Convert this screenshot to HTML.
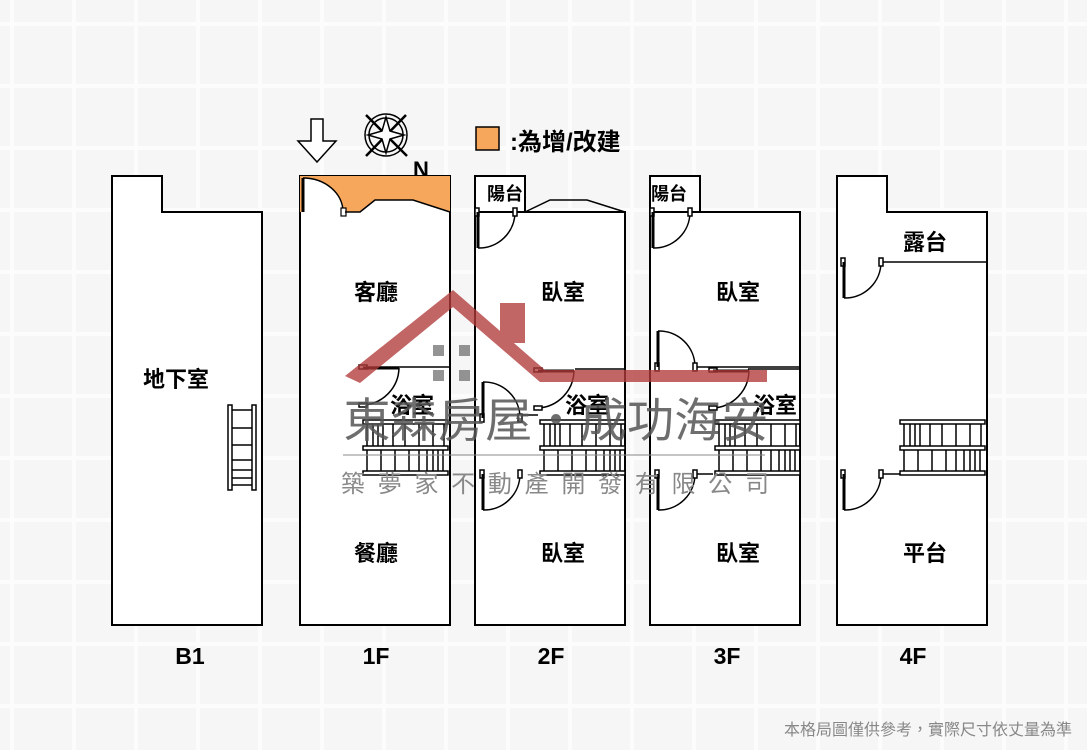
<!DOCTYPE html>
<html><head><meta charset="utf-8"><style>
html,body{margin:0;padding:0;background:#f8f8f8}
svg{display:block}
text{font-family:"Liberation Sans","Noto Sans CJK TC",sans-serif}
</style></head><body>
<svg width="1087" height="750" viewBox="0 0 1087 750" xmlns="http://www.w3.org/2000/svg">
<defs>
<pattern id="g" width="62" height="62" patternUnits="userSpaceOnUse" x="10" y="-40">
<rect width="62" height="62" fill="#f6f6f6"/>
<rect x="0" y="0" width="62" height="4" fill="#fcfcfc"/>
<rect x="0" y="0" width="4" height="62" fill="#fcfcfc"/>
</pattern>
<g id="st" fill="#fff" stroke="#000" stroke-width="1.5">
<rect x="0" y="0" width="85" height="4"/>
<rect x="0" y="26" width="85" height="4"/>
<rect x="0" y="51" width="85" height="4"/>
<path d="M4 4V26M10 4V26M15 4V26M20 4V26M30 4V26M42 4V26M56 4V26M70 4V26M81 4V26M4 30V51M18 30V51M32 30V51M46 30V51M56 30V51M64 30V51M70 30V51M75 30V51M80 30V51" fill="none"/>
</g>
<g id="dl" fill="none" stroke="#000" stroke-width="1.5">
<rect x="-2" y="-4" width="4" height="8" fill="#fff"/>
<path d="M1 0V36" stroke-width="3"/>
<path d="M1 36 A36 36 0 0 0 38 0"/>
<rect x="36" y="-4" width="4" height="8" fill="#fff"/>
</g>
<g id="du" fill="none" stroke="#000" stroke-width="1.5">
<rect x="-2" y="32" width="4" height="8" fill="#fff"/>
<path d="M1 0V36" stroke-width="3"/>
<path d="M1 0 A36 36 0 0 1 38 36"/>
<rect x="36" y="32" width="4" height="8" fill="#fff"/>
</g>
<g id="db" fill="none" stroke="#000" stroke-width="1.5">
<rect x="-4" y="-2" width="8" height="4" fill="#fff"/>
<path d="M0 1H36" stroke-width="3"/>
<path d="M36 1 A38 38 0 0 1 0 38"/>
<rect x="-4" y="36" width="8" height="4" fill="#fff"/>
</g>
</defs>
<rect width="1087" height="750" fill="url(#g)"/>

<!-- legend -->
<g fill="none" stroke="#000" stroke-width="1.5">
<path d="M311 119h12v22h13l-19 21-19-21h13z" fill="#fff"/>
<circle cx="386" cy="135" r="21"/><circle cx="386" cy="135" r="17"/>
<path d="M366 115L407 156M406 115L366 156" stroke-width="2.5"/>
<path d="M386 117L390 131 404 135 390 139 386 153 382 139 368 135 382 131Z" fill="#fff"/>
</g>
<text x="413" y="177" font-size="22" font-weight="bold">N</text>
<rect x="476" y="127" width="23" height="23" fill="#f7a75c" stroke="#000" stroke-width="1.5"/>
<text x="510" y="150" font-size="24" font-weight="bold">:為增/改建</text>

<g fill="#fff" stroke="#000" stroke-width="2">
<path d="M112 176H162V212H262V625H112Z"/>
<rect x="300" y="176" width="150" height="449"/>
<path d="M475 212H625V625H475Z"/>
<rect x="475" y="176" width="50" height="36"/>
<path d="M650 212H800V625H650Z"/>
<rect x="650" y="176" width="50" height="36"/>
<path d="M837 176H887V212H987V625H837Z"/>
</g>
<!-- orange addition -->
<rect x="300" y="176" width="150" height="36" fill="#f7a75c"/>
<path d="M345 212H360L375 200H413L450 212Z" fill="#fff"/>
<path d="M303 212V178A40 34 0 0 1 343 212Z" fill="#fff"/>
<path d="M303 178A40 34 0 0 1 343 212" fill="none" stroke="#000" stroke-width="1.5"/>
<path d="M303 178V212" stroke="#000" stroke-width="3"/>
<rect x="341" y="208" width="5" height="8" fill="#fff" stroke="#000" stroke-width="1.2"/>
<path d="M345 212H360L375 200H413L450 212" fill="none" stroke="#000" stroke-width="1.5"/>
<path d="M300 212V625M450 212V625" stroke="#000" stroke-width="2"/>
<!-- 2F top profile -->
<path d="M525 212L550 200H587L625 212" fill="none" stroke="#000" stroke-width="1.5"/>
<use href="#dl" x="477" y="212"/>
<use href="#dl" x="652" y="212"/>

<!-- interior walls -->
<g stroke="#000" stroke-width="1.5" fill="none">
<path d="M360 367H450"/>
<path d="M575 369H625M748 369H800M880 262H987"/>
<path d="M697 367H800"/>
<path d="M520 415H538M695 474H713M880 474H900"/>
</g>
<use href="#db" x="363" y="367"/>
<use href="#db" x="538" y="370"/>
<use href="#db" x="713" y="370"/>
<use href="#du" x="482" y="382"/>
<use href="#dl" x="482" y="474"/>
<use href="#du" x="657" y="331"/>
<use href="#dl" x="657" y="474"/>
<use href="#dl" x="843" y="262"/>
<use href="#dl" x="843" y="474"/>
<!-- stairs -->
<use href="#st" x="363" y="420"/>
<use href="#st" x="540" y="420"/>
<use href="#st" x="715" y="420"/>
<use href="#st" x="900" y="420"/>
<!-- B1 ladder -->
<g fill="#fff" stroke="#000" stroke-width="1.5">
<rect x="228" y="405" width="4" height="85"/><rect x="252" y="405" width="4" height="85"/>
<path d="M232 410H252M232 428H252M232 445H252M232 460H252M232 470H252M232 478H252M232 485H252" fill="none"/>
</g>

<!-- labels -->
<g font-size="22" font-weight="bold" text-anchor="middle">
<text x="176" y="387">地下室</text>
<text x="376" y="300">客廳</text>
<text x="376" y="561">餐廳</text>
<text x="563" y="300">臥室</text>
<text x="563" y="561">臥室</text>
<text x="738" y="300">臥室</text>
<text x="738" y="561">臥室</text>
<text x="925" y="250">露台</text>
<text x="925" y="561">平台</text>
<text x="412" y="413">浴室</text>
<text x="587" y="413">浴室</text>
<text x="775" y="413">浴室</text>
</g>
<g font-size="18" font-weight="bold">
<text x="487" y="200">陽台</text>
<text x="651" y="200">陽台</text>
</g>
<g font-size="23" font-weight="bold" text-anchor="middle">
<text x="190" y="664">B1</text>
<text x="376" y="664">1F</text>
<text x="551" y="664">2F</text>
<text x="727" y="664">3F</text>
<text x="913" y="664">4F</text>
</g>

<!-- watermark -->
<g opacity="0.78">
<path d="M345 376L453 290L545 370H767V382H540L453 307L360 383Z" fill="#b23a3a"/>
<rect x="500" y="303" width="25" height="40" fill="#b23a3a"/>
<rect x="433" y="345" width="11" height="11" fill="#777"/><rect x="459" y="345" width="11" height="11" fill="#777"/>
<rect x="433" y="370" width="11" height="11" fill="#777"/><rect x="459" y="370" width="11" height="11" fill="#777"/>
</g>
<text x="556" y="437" font-size="47" fill="#555" fill-opacity="0.85" text-anchor="middle" textLength="425" lengthAdjust="spacing">東森房屋・成功海安</text>
<path d="M343 455H765" stroke="#888" stroke-width="1"/>
<text x="555" y="492" font-size="24" fill="#888" text-anchor="middle" textLength="428" lengthAdjust="spacing">築夢家不動產開發有限公司</text>

<text x="1072" y="735" font-size="16" fill="#888" text-anchor="end">本格局圖僅供參考，實際尺寸依丈量為準</text>
</svg>
</body></html>
